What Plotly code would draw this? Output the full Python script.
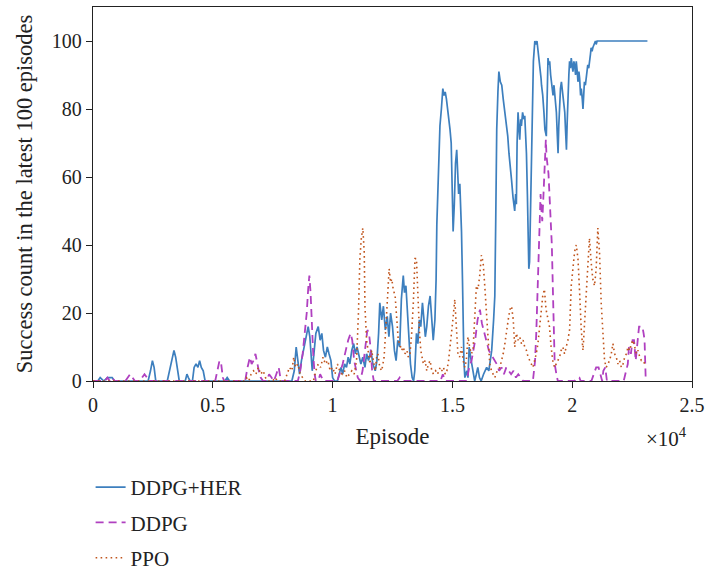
import plotly.graph_objects as go

# Rolling success count (latest 100 episodes) per training episode
her_ep = [0, 200, 300, 450, 600, 800, 900, 1200, 2300, 2400, 2480, 2550, 2620, 3100, 3200, 3300, 3380, 3450,
          3520, 3600, 3850, 3920, 3980, 4050, 4150, 4220, 4300, 4380, 4450, 4520, 4600, 4680, 4800, 5500, 5600,
          5700, 8300, 8400, 8480, 8550, 8620, 8700, 8800, 8900, 8980, 9050, 9100, 9150, 9220, 9300, 9400, 9480,
          9550, 9620, 9700, 9780, 9850, 9930, 10000, 10080, 10200, 10280, 10350, 10420, 10500, 10580, 10650,
          10720, 10800, 10880, 10950, 11020, 11100, 11180, 11260, 11350, 11420, 11500, 11600, 11680, 11780,
          11850, 11920, 11970, 12050, 12120, 12200, 12280, 12350, 12420, 12500, 12580, 12650, 12720, 12800,
          12870, 12950, 13000, 13060, 13120, 13180, 13250, 13320, 13380, 13430, 13500, 13560, 13620, 13680,
          13750, 13800, 13870, 13930, 14000, 14070, 14130, 14200, 14270, 14320, 14350, 14420, 14480, 14540,
          14600, 14650, 14700, 14750, 14800, 14850, 14900, 14950, 14970, 15000, 15030, 15080, 15130, 15180,
          15220, 15260, 15310, 15350, 15380, 15420, 15450, 15480, 15520, 15600, 15650, 15700, 15760, 15830,
          15930, 16000, 16060, 16130, 16200, 16300, 16430, 16520, 16640, 16720, 16770, 16810, 16850, 16900,
          16940, 17000, 17060, 17120, 17190, 17250, 17310, 17360, 17390, 17430, 17470, 17530, 17600, 17640,
          17670, 17700, 17740, 17780, 17810, 17850, 17880, 17930, 17980, 18020, 18060, 18090, 18130, 18160,
          18190, 18220, 18260, 18300, 18340, 18380, 18440, 18500, 18530, 18580, 18640, 18700, 18720, 18770,
          18820, 18860, 18920, 18960, 18990, 19030, 19060, 19100, 19130, 19170, 19200, 19240, 19270, 19300,
          19340, 19380, 19410, 19440, 19480, 19510, 19550, 19580, 19620, 19660, 19690, 19720, 19760, 19790,
          19820, 19860, 19890, 19930, 19960, 20000, 20030, 20070, 20100, 20140, 20170, 20210, 20240, 20280,
          20310, 20350, 20380, 20420, 20450, 20480, 20510, 20550, 20580, 20620, 20650, 20690, 20720, 20760,
          20790, 20830, 20860, 20900, 20930, 20970, 21000, 21040, 21140, 23140]
her_val = [0, 0, 1, 0, 1, 1, 0, 0, 0, 3, 6, 4, 0, 0, 3, 6, 9, 7,
           3, 0, 0, 2, 1, 0, 0, 4, 5, 4, 6, 4, 3, 0, 0, 0, 1,
           0, 0, 3, 10, 5, 2, 6, 10, 14, 16, 13, 7, 3, 8, 14, 16, 12,
           14, 9, 7, 10, 8, 6, 1, 0, 0, 2, 4, 2, 5, 4, 7,
           5, 9, 11, 8, 10, 7, 5, 7, 4, 8, 6, 9, 5, 3,
           6, 14, 23, 18, 22, 15, 19, 13, 20, 16, 9, 6, 12, 10,
           24, 31, 26, 28, 20, 12, 5, 1, 0, 3, 14, 11, 18, 16,
           23, 19, 13, 16, 22, 25, 20, 12, 18, 30, 46, 62, 75, 80,
           86, 84, 85, 83, 80, 78, 74, 70, 64, 52, 44, 52, 64, 68,
           60, 55, 58, 52, 44, 30, 15, 6, 1, 3, 1, 10, 7, 4,
           0, 2, 4, 1, 0, 2, 4, 3, 9, 18, 25, 48, 74, 85,
           91, 88, 87, 83, 79, 75, 72, 67, 64, 61, 59, 54, 50, 55,
           52, 70, 79, 74, 71, 77, 75, 79, 77, 78, 72, 67, 55, 44,
           33, 35, 50, 60, 80, 94, 100, 99, 100, 97, 94, 89, 87, 84,
           79, 74, 72, 85, 95, 93, 94, 90, 88, 86, 84, 87, 85, 82,
           79, 72, 67, 75, 82, 86, 88, 86, 84, 81, 79, 74, 68, 76,
           84, 90, 94, 92, 95, 93, 91, 94, 93, 90, 94, 91, 88, 91,
           89, 84, 86, 83, 80, 84, 88, 87, 89, 91, 93, 92, 95, 96,
           98, 97, 98, 99, 99, 100, 99, 100, 100, 100]

ddpg_ep = [0, 500, 600, 700, 800, 900, 1350, 1450, 1550, 1650, 1750, 1950, 2050, 2150, 2250, 2300, 5100, 5200,
           5280, 5350, 5420, 5480, 6350, 6450, 6550, 6620, 6700, 6780, 6850, 6920, 7000, 7100, 7250, 7350,
           7450, 7550, 7650, 7750, 7820, 7880, 8550, 8650, 8750, 8850, 8920, 8980, 9030, 9080, 9130, 9190,
           9250, 9300, 9400, 9480, 9550, 9620, 10200, 10300, 10420, 10550, 10650, 10750, 10820, 10900, 10980,
           11050, 11150, 11250, 11350, 11450, 11520, 11580, 11650, 11720, 12700, 12800, 12900, 14500, 14600,
           14700, 15600, 15700, 15800, 15880, 15950, 16050, 16150, 16230, 16300, 16380, 16450, 16520, 16600,
           16680, 16750, 16850, 16950, 17050, 17150, 17250, 17350, 17450, 17550, 17650, 17750, 17850, 17950,
           18360, 18450, 18500, 18560, 18610, 18680, 18720, 18750, 18790, 18820, 18870, 18900, 18930, 18970,
           19010, 19050, 19090, 19150, 19200, 19240, 19270, 19340, 19400, 20100, 20200, 20300, 20350, 20800,
           20900, 21000, 21100, 21180, 21250, 21300, 21380, 21450, 22150, 22250, 22320, 22370, 22450, 22520,
           22580, 22650, 22720, 22790, 22850, 22930, 22980, 23020, 23070]
ddpg_val = [0, 0, 1, 0, 1, 0, 0, 1, 2, 1, 0, 0, 1, 2, 1, 0, 0, 3,
            6, 5, 1, 0, 0, 4, 7, 5, 6, 8, 5, 3, 1, 0, 0, 2,
            1, 0, 2, 4, 1, 0, 0, 3, 8, 14, 20, 27, 31, 26, 17, 8,
            2, 0, 0, 2, 1, 0, 0, 2, 5, 9, 12, 14, 12, 6, 3,
            1, 0, 3, 9, 15, 14, 10, 3, 0, 0, 1, 0, 0, 2,
            0, 0, 4, 6, 9, 12, 18, 21, 17, 15, 13, 11, 9, 8,
            7, 6, 5, 3, 4, 2, 4, 3, 2, 3, 1, 2, 1, 0,
            0, 6, 14, 28, 39, 55, 50, 47, 53, 59, 67, 71, 66, 63,
            61, 55, 49, 40, 25, 12, 5, 2, 0, 0, 1, 1, 0, 0,
            2, 4, 4, 2, 0, 3, 4, 0, 0, 3, 5, 10, 8, 12,
            12, 6, 11, 16, 16, 16, 14, 12, 0]

ppo_ep = [0, 6300, 6400, 6500, 6600, 6700, 6800, 6900, 7000, 7100, 7200, 7300, 7500, 7600, 7700, 8000, 8100,
          8200, 8300, 8380, 8450, 8550, 8650, 8750, 8850, 9200, 9300, 9400, 9500, 9600, 9700, 9800, 9900,
          10000, 10100, 10200, 10300, 10400, 10500, 10600, 10700, 10800, 10900, 11000, 11080, 11140, 11200,
          11260, 11320, 11350, 11420, 11500, 11560, 11630, 11700, 11780, 11840, 11890, 11970, 12050, 12150,
          12220, 12300, 12360, 12420, 12470, 12530, 12610, 12670, 12740, 12800, 12880, 12950, 13020, 13100,
          13160, 13230, 13300, 13370, 13440, 13500, 13560, 13620, 13680, 13790, 13860, 13930, 14000, 14070,
          14140, 14210, 14300, 14380, 14490, 14560, 14630, 14700, 14770, 14840, 14900, 14960, 15020, 15100,
          15160, 15230, 15300, 15380, 15450, 15520, 15580, 15650, 15720, 15790, 15860, 15930, 16000, 16070,
          16140, 16210, 16280, 16350, 16420, 16490, 16560, 16630, 16700, 16770, 16870, 16980, 17050, 17120,
          17190, 17260, 17330, 17400, 17470, 17540, 17600, 17670, 17740, 17810, 17880, 17950, 18020, 18090,
          18160, 18230, 18300, 18360, 18430, 18500, 18570, 18640, 18700, 18770, 18840, 18910, 18980, 19050,
          19120, 19190, 19260, 19330, 19400, 19470, 19540, 19610, 19680, 19750, 19820, 19890, 19960, 20030,
          20100, 20170, 20240, 20310, 20380, 20450, 20520, 20590, 20660, 20720, 20790, 20860, 20930, 21000,
          21070, 21140, 21210, 21280, 21350, 21420, 21490, 21560, 21630, 21700, 21770, 21840, 21910, 21980,
          22050, 22120, 22190, 22260, 22330, 22400, 22470, 22540, 22610, 22680, 22750, 22820, 22890, 22960,
          23030, 23100]
ppo_val = [0, 0, 1, 0, 2, 3, 2, 4, 2, 3, 1, 0, 0, 1, 0, 0, 2,
           4, 3, 7, 4, 5, 2, 1, 0, 0, 3, 5, 4, 7, 5, 6, 3,
           4, 2, 5, 3, 2, 3, 1, 2, 3, 2, 6, 20, 36, 42,
           45, 38, 22, 12, 8, 5, 9, 6, 3, 7, 8, 4, 3, 7,
           17, 27, 33, 29, 30, 27, 25, 19, 12, 11, 9, 10, 8, 9,
           7, 8, 14, 23, 36, 36, 25, 15, 9, 5, 6, 3, 5, 6,
           3, 2, 3, 2, 4, 3, 4, 2, 3, 6, 10, 15, 18, 24,
           18, 8, 7, 10, 6, 4, 6, 13, 10, 8, 9, 21, 28, 27,
           31, 37, 35, 28, 20, 10, 5, 3, 2, 1, 3, 4, 6, 8,
           11, 15, 18, 21, 22, 18, 10, 14, 12, 13, 11, 12, 10, 9,
           7, 6, 5, 4, 6, 8, 11, 15, 20, 25, 27, 21, 18, 16,
           10, 6, 4, 5, 6, 7, 9, 10, 8, 10, 12, 15, 28, 33,
           38, 40, 36, 26, 15, 9, 18, 27, 36, 42, 35, 30, 28, 33,
           45, 38, 23, 13, 6, 4, 5, 6, 8, 11, 8, 7, 5, 6,
           4, 5, 7, 8, 10, 9, 11, 12, 10, 8, 9, 7, 6, 6,
           5, 5]

x_tick_vals = [0, 5000, 10000, 15000, 20000, 25000]
x_tick_text = ["0", "0.5", "1", "1.5", "2", "2.5"]
y_tick_vals = [0, 20, 40, 60, 80, 100]

FONT = "Liberation Serif"
INK = "#222222"

fig = go.Figure()
fig.add_trace(go.Scatter(x=her_ep, y=her_val, mode="lines", name="DDPG+HER", legendgroup="a",
                         line=dict(color="#3d7fbe", width=1.7)))
fig.add_trace(go.Scatter(x=ddpg_ep, y=ddpg_val, mode="lines", name="DDPG", legendgroup="b",
                         line=dict(color="#b040c0", width=1.8, dash="8px,5px")))
fig.add_trace(go.Scatter(x=ppo_ep, y=ppo_val, mode="lines", name="PPO", legendgroup="c",
                         line=dict(color="#c0541c", width=1.6, dash="1.6px,3.4px")))

fig.update_layout(
    width=705, height=575,
    margin=dict(l=93, r=13, t=7, b=194, autoexpand=False),
    paper_bgcolor="white", plot_bgcolor="white",
    font=dict(family=FONT, size=20, color=INK),
    showlegend=True,
    legend=dict(x=-0.004, y=-0.23, xanchor="left", yanchor="top",
                font=dict(family=FONT, size=21, color=INK),
                traceorder="grouped", tracegroupgap=5,
                bgcolor="rgba(0,0,0,0)", borderwidth=0),
    xaxis=dict(range=[0, 25000], tickvals=x_tick_vals, ticktext=x_tick_text,
               showgrid=False, zeroline=False, showline=True, linecolor=INK, linewidth=1.3,
               mirror=True, ticks="outside", ticklen=6, tickwidth=1.3, tickcolor=INK,
               layer="below traces",
               title=dict(text="Episode", font=dict(size=23), standoff=12)),
    yaxis=dict(range=[0, 110], tickvals=y_tick_vals,
               showgrid=False, zeroline=False, showline=True, linecolor=INK, linewidth=1.3,
               mirror=True, ticks="outside", ticklen=6, tickwidth=1.3, tickcolor=INK,
               layer="below traces",
               title=dict(text="Success count in the latest 100 episodes", font=dict(size=22.5), standoff=12)),
)

fig.add_annotation(text="×10<sup>4</sup>", xref="paper", yref="paper", x=0.957, y=-0.15,
                   xanchor="center", yanchor="middle", showarrow=False,
                   font=dict(family=FONT, size=21, color=INK))

fig.write_html("out.html")
